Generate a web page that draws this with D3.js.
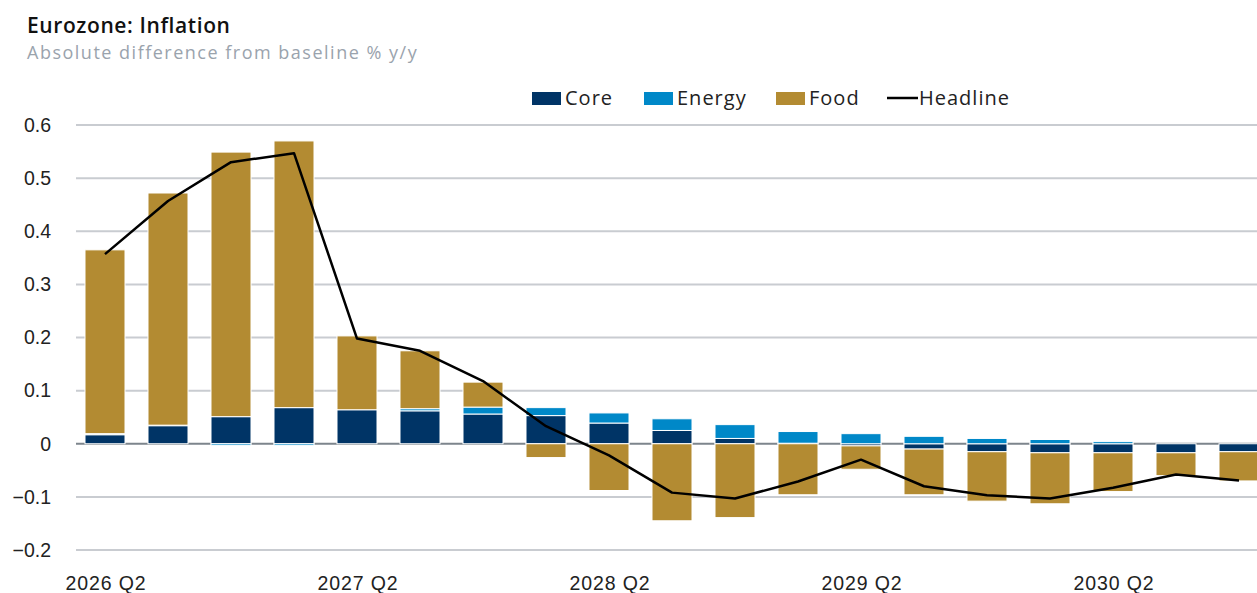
<!DOCTYPE html>
<html lang="en">
<head>
<meta charset="UTF-8" />
<title>Eurozone: Inflation</title>
<script src="https://cdn.jsdelivr.net/npm/d3@7"></script>
<style>
  body { margin: 0; background: #fff; font-family: "Open Sans", sans-serif; }
  .tick text { font-family: "Liberation Sans", Arial, sans-serif; }
</style>
</head>
<body>
<div id="app"></div>
<script>
// quarters and series (absolute difference from baseline, % y/y)
const quarters = ["2026 Q2","2026 Q3","2026 Q4","2027 Q1","2027 Q2","2027 Q3","2027 Q4","2028 Q1",
  "2028 Q2","2028 Q3","2028 Q4","2029 Q1","2029 Q2","2029 Q3","2029 Q4","2030 Q1","2030 Q2","2030 Q3","2030 Q4"];
const core     = [0.017, 0.034, 0.051, 0.068, 0.064, 0.062, 0.056, 0.053, 0.039, 0.025, 0.010, 0.001, -0.004, -0.010, -0.015, -0.017, -0.017, -0.017, -0.015];
const energy   = [0.002, 0.001, -0.003, -0.003, 0.000, 0.004, 0.013, 0.015, 0.019, 0.022, 0.026, 0.022, 0.019, 0.014, 0.010, 0.008, 0.004, 0.000, 0.000];
const food     = [0.346, 0.437, 0.498, 0.502, 0.139, 0.109, 0.047, -0.026, -0.088, -0.145, -0.139, -0.096, -0.044, -0.086, -0.093, -0.096, -0.073, -0.043, -0.055];
const headline = [0.357, 0.457, 0.530, 0.547, 0.198, 0.175, 0.118, 0.033, -0.022, -0.092, -0.103, -0.071, -0.030, -0.080, -0.097, -0.103, -0.083, -0.058, -0.069];
const yTicks = [-0.2, -0.1, 0, 0.1, 0.2, 0.3, 0.4, 0.5, 0.6];
const xLabelQuarters = ["2026 Q2","2027 Q2","2028 Q2","2029 Q2","2030 Q2"];

const seriesNames = ["Core", "Energy", "Food"];
const colors = { Core: "#003466", Energy: "#0088c8", Food: "#b38b32" };

const w = 1257, h = 593;
const svg = d3.select("#app").append("svg").attr("width", w).attr("height", h);

// titles
svg.append("text").attr("x", 27).attr("y", 33)
  .attr("font-size", 21).attr("font-weight", 600).attr("fill", "#111")
  .attr("letter-spacing", 0.6)
  .text("Eurozone: Inflation");
svg.append("text").attr("x", 27).attr("y", 59)
  .attr("font-size", 18).attr("fill", "#9aa3ad")
  .attr("letter-spacing", 1.5)
  .text("Absolute difference from baseline % y/y");

// scales
const x = d3.scaleBand().domain(quarters).range([73.5, 73.5 + 63 * quarters.length]).paddingInner(23 / 63).paddingOuter(23 / 126);
const y = d3.scaleLinear().domain([-0.2, 0.6]).range([550, 125]);

// grid
svg.append("g").selectAll("line").data(yTicks).join("line")
  .attr("x1", 76).attr("x2", w)
  .attr("y1", d => y(d)).attr("y2", d => y(d))
  .attr("stroke", d => d === 0 ? "#7d858c" : "#c9ccd1")
  .attr("stroke-width", 2);

// y axis labels
const yAxis = d3.axisLeft(y).tickValues(yTicks).tickSize(0).tickPadding(0)
  .tickFormat(d => d === 0 ? "0" : d3.format(".1f")(d));
svg.append("g").attr("transform", "translate(51,0)").call(yAxis)
  .call(g => g.select(".domain").remove())
  .call(g => g.selectAll("text").attr("font-size", 19.5).attr("fill", "#222"));

// x axis labels
const xAxis = d3.axisBottom(x).tickValues(xLabelQuarters).tickSize(0).tickPadding(0);
svg.append("g").attr("transform", "translate(1,576)").call(xAxis)
  .call(g => g.select(".domain").remove())
  .call(g => g.selectAll("text").attr("font-size", 19.5).attr("letter-spacing", 0.9).attr("fill", "#222"));

// stacked bars
const table = quarters.map((q, i) => ({ q, Core: core[i], Energy: energy[i], Food: food[i] }));
const stacked = d3.stack().keys(seriesNames).offset(d3.stackOffsetDiverging)(table);

svg.append("g").selectAll("g").data(stacked).join("g")
  .attr("fill", d => colors[d.key])
  .selectAll("rect").data(d => d).join("rect")
  .attr("x", d => x(d.data.q))
  .attr("width", x.bandwidth())
  .attr("y", d => y(Math.max(d[0], d[1])))
  .attr("height", d => Math.abs(y(d[0]) - y(d[1])))
  .attr("stroke", "#fff").attr("stroke-width", 1);

// headline line
const line = d3.line().x((d, i) => x(quarters[i]) + x.bandwidth() / 2).y(d => y(d));
svg.append("path").datum(headline)
  .attr("d", line).attr("fill", "none")
  .attr("stroke", "#000").attr("stroke-width", 2.5).attr("stroke-linejoin", "round");

// legend
const legend = svg.append("g").attr("font-size", 20).attr("fill", "#222").attr("letter-spacing", 1);
const legendItems = [
  { name: "Core", x: 532, type: "rect" },
  { name: "Energy", x: 644, type: "rect" },
  { name: "Food", x: 776, type: "rect" },
  { name: "Headline", x: 887, type: "line" }
];
legendItems.forEach(it => {
  if (it.type === "rect") {
    legend.append("rect").attr("x", it.x).attr("y", 92).attr("width", 29).attr("height", 13)
      .attr("fill", colors[it.name]);
    legend.append("text").attr("x", it.x + 33).attr("y", 105).text(it.name);
  } else {
    legend.append("line").attr("x1", it.x).attr("x2", it.x + 31).attr("y1", 98).attr("y2", 98)
      .attr("stroke", "#000").attr("stroke-width", 2.5);
    legend.append("text").attr("x", it.x + 32).attr("y", 105).text(it.name);
  }
});
</script>
</body>
</html>
